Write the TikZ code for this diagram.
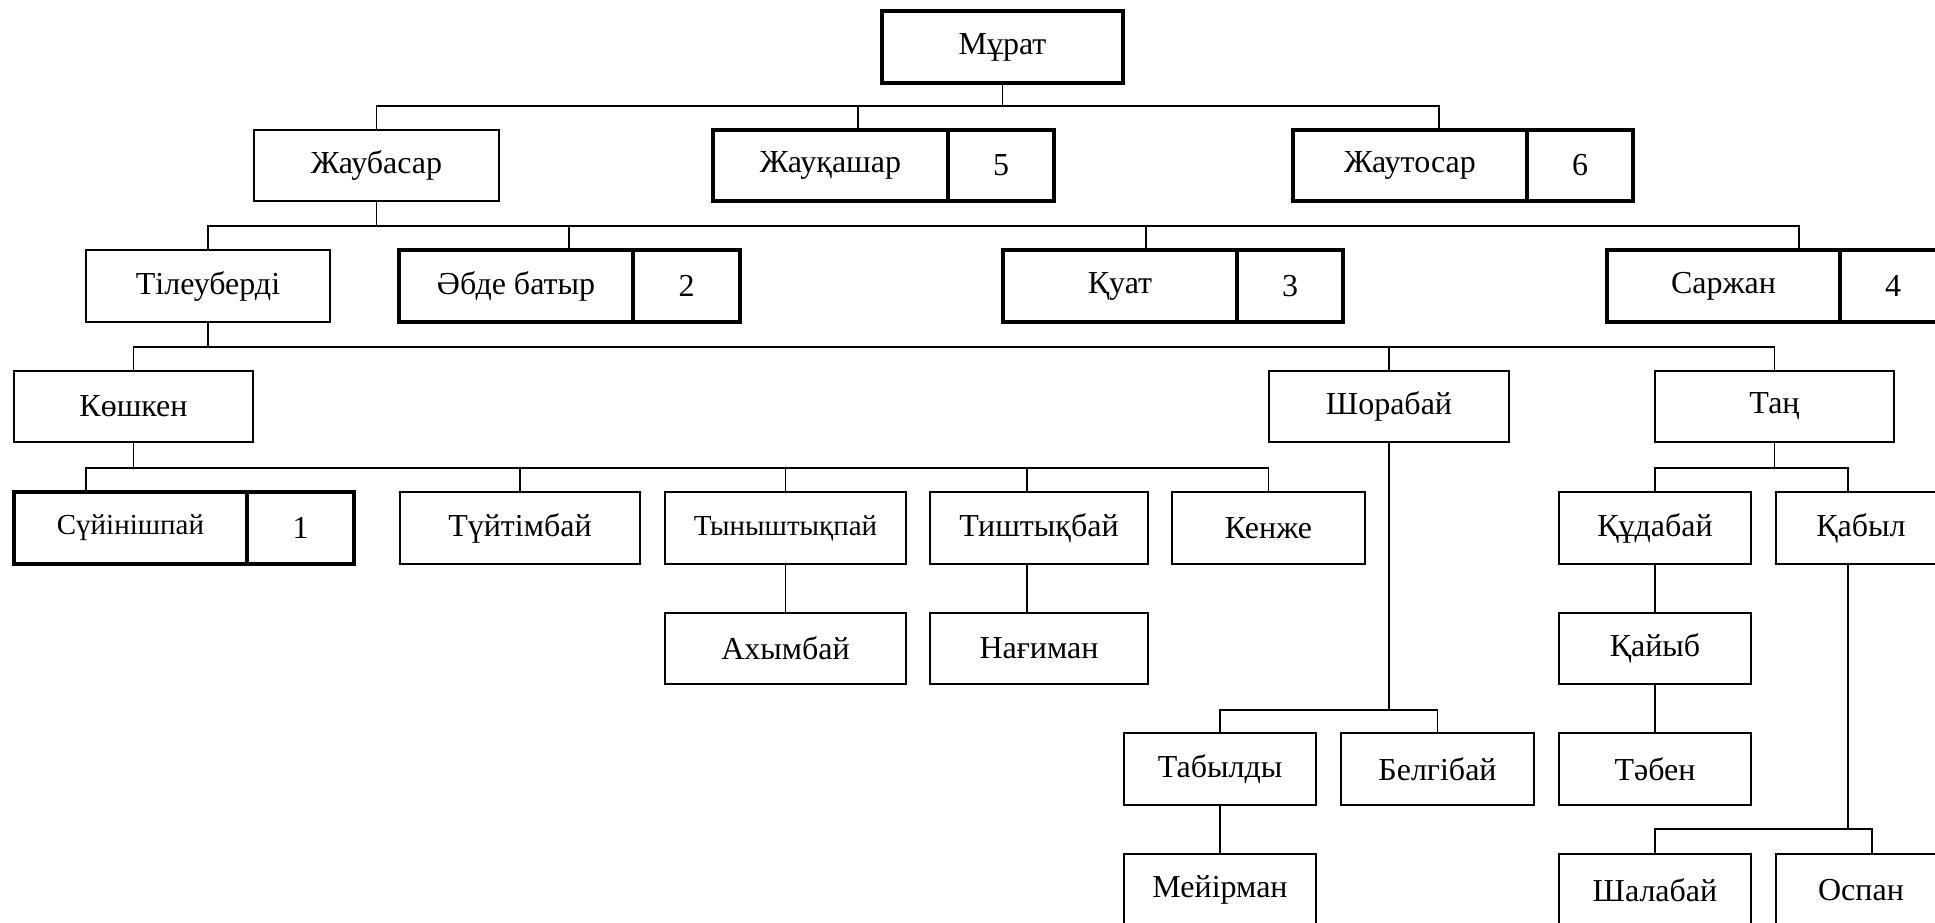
\documentclass[tikz,border=0pt]{standalone}
\usepackage{fontspec}
\setmainfont{Liberation Serif}
\newcommand\fsA{\fontsize{32}{38}\selectfont}
\newcommand\fsB{\fontsize{29}{35}\selectfont}
\newcommand\mkbox[7]{\node[#6, minimum width={(#4-#2)*1pt}, minimum height={(#5-#3)*1pt}] (#1) at ({(#2+#4)/2},{(#3+#5)/2}) {#7};}
\tikzset{
  box/.style={draw, line width=1.3pt, inner sep=0pt, outer sep=0pt, font=\fsA, anchor=center},
  tbox/.style={box, line width=3.2pt},
  ln/.style={line width=1.5pt},
}
\begin{document}
\begin{tikzpicture}[x=1pt,y=-1pt]
\useasboundingbox (0,0) rectangle (1935,923);
\fill[white] (0,0) rectangle (1935,923);
\clip (0,0) rectangle (1935,923);
% bus levels
\coordinate (y0) at (0,106);
\coordinate (y1) at (0,226);
\coordinate (y2) at (0,347);
\coordinate (y3) at (0,468);
\coordinate (y4) at (0,710);
\coordinate (y5) at (0,829);
% special connector x positions
\coordinate (xzhauk) at (858,0);
\coordinate (xzhaut) at (1439,0);
\coordinate (xabde) at (569,0);
\coordinate (xkuat) at (1146,0);
\coordinate (xsarzh) at (1799,0);
\coordinate (xsuyin) at (86,0);
\coordinate (xtisht) at (1027,0);
\coordinate (xkabyl) at (1848,0);
\coordinate (xospan) at (1872,0);
% level 0
\mkbox{murat}{882}{11}{1123}{83}{tbox}{Мұрат}
% level 1
\mkbox{zhaub}{254}{130}{499}{201}{box}{Жаубасар}
\mkbox{zhauk}{713}{130}{948}{201}{tbox}{Жауқашар}
\mkbox{zhaukn}{948}{130}{1054}{201}{tbox}{5}
\mkbox{zhaut}{1293}{130}{1527}{201}{tbox}{Жаутосар}
\mkbox{zhautn}{1527}{130}{1633}{201}{tbox}{6}
% level 2
\mkbox{tileu}{86}{250}{330}{322}{box}{Тілеуберді}
\mkbox{abde}{399}{250}{633}{322}{tbox}{Әбде батыр}
\mkbox{abden}{633}{250}{740}{322}{tbox}{2}
\mkbox{kuat}{1003}{250}{1237}{322}{tbox}{Қуат}
\mkbox{kuatn}{1237}{250}{1343}{322}{tbox}{3}
\mkbox{sarzh}{1607}{250}{1840}{322}{tbox}{Саржан}
\mkbox{sarzhn}{1840}{250}{1946}{322}{tbox}{4}
% level 3
\mkbox{koshken}{14}{371}{253}{442}{box}{Көшкен}
\mkbox{shorabai}{1269}{371}{1509}{442}{box}{Шорабай}
\mkbox{tan}{1655}{371}{1894}{442}{box}{Таң}
% level 4
\mkbox{suyin}{14}{492}{247}{564}{tbox,font=\fsB}{Сүйінішпай}
\mkbox{suyinn}{247}{492}{354}{564}{tbox}{1}
\mkbox{tuyt}{400}{492}{640}{564}{box}{Түйтімбай}
\mkbox{tynysh}{665}{492}{906}{564}{box,font=\fsB}{Тыныштықпай}
\mkbox{tisht}{930}{492}{1148}{564}{box}{Тиштықбай}
\mkbox{kenzhe}{1172}{492}{1365}{564}{box}{Кенже}
\mkbox{kudabai}{1559}{492}{1751}{564}{box}{Құдабай}
\mkbox{kabyl}{1776}{492}{1946}{564}{box}{Қабыл}
% level 5
\mkbox{akhym}{665}{613}{906}{684}{box}{Ахымбай}
\mkbox{nagiman}{930}{613}{1148}{684}{box}{Нағиман}
\mkbox{kaiyb}{1559}{613}{1751}{684}{box}{Қайыб}
% level 6
\mkbox{tabyldy}{1124}{733}{1316}{805}{box}{Табылды}
\mkbox{belgi}{1341}{733}{1534}{805}{box}{Белгібай}
\mkbox{taben}{1559}{733}{1751}{805}{box}{Тәбен}
% level 7
\mkbox{meyir}{1124}{854}{1316}{926}{box}{Мейірман}
\mkbox{shalabai}{1559}{854}{1751}{926}{box}{Шалабай}
\mkbox{ospan}{1776}{854}{1946}{926}{box}{Оспан}
% connectors: Мұрат
\draw[ln] (murat.south) -- (murat.south |- y0);
\draw[ln] (zhaub.north) |- (murat.south |- y0);
\draw[ln] (zhauk.north -| xzhauk) |- (murat.south |- y0);
\draw[ln] (zhaut.north -| xzhaut) |- (murat.south |- y0);
% Жаубасар
\draw[ln] (zhaub.south) -- (zhaub.south |- y1);
\draw[ln] (tileu.north) |- (zhaub.south |- y1);
\draw[ln] (abde.north -| xabde) |- (zhaub.south |- y1);
\draw[ln] (kuat.north -| xkuat) |- (zhaub.south |- y1);
\draw[ln] (sarzh.north -| xsarzh) |- (zhaub.south |- y1);
% Тілеуберді
\draw[ln] (tileu.south) -- (tileu.south |- y2);
\draw[ln] (koshken.north) |- (tileu.south |- y2);
\draw[ln] (shorabai.north) |- (tileu.south |- y2);
\draw[ln] (tan.north) |- (tileu.south |- y2);
% Көшкен
\draw[ln] (koshken.south) -- (koshken.south |- y3);
\draw[ln] (suyin.north -| xsuyin) |- (koshken.south |- y3);
\draw[ln] (tuyt.north) |- (koshken.south |- y3);
\draw[ln] (tynysh.north) |- (koshken.south |- y3);
\draw[ln] (tisht.north -| xtisht) |- (koshken.south |- y3);
\draw[ln] (kenzhe.north) |- (koshken.south |- y3);
\draw[ln] (tynysh.south) -- (akhym.north);
\draw[ln] (tisht.south -| xtisht) -- (nagiman.north -| xtisht);
% Шорабай
\draw[ln] (shorabai.south) -- (shorabai.south |- y4);
\draw[ln] (tabyldy.north) |- (shorabai.south |- y4);
\draw[ln] (belgi.north) |- (shorabai.south |- y4);
\draw[ln] (tabyldy.south) -- (meyir.north);
% Таң
\draw[ln] (tan.south) -- (tan.south |- y3);
\draw[ln] (kudabai.north) |- (tan.south |- y3);
\draw[ln] (kabyl.north -| xkabyl) |- (tan.south |- y3);
\draw[ln] (kudabai.south) -- (kaiyb.north);
\draw[ln] (kaiyb.south) -- (taben.north);
% Қабыл
\draw[ln] (kabyl.south -| xkabyl) -- (xkabyl |- y5);
\draw[ln] (shalabai.north) |- (xkabyl |- y5);
\draw[ln] (ospan.north -| xospan) |- (xkabyl |- y5);
\end{tikzpicture}
\end{document}
